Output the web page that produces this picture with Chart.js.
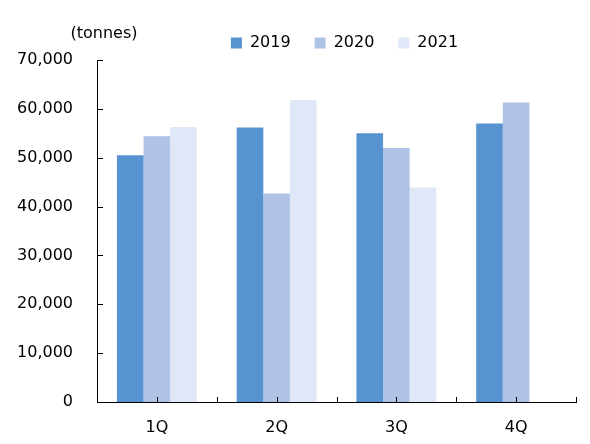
<!DOCTYPE html>
<html>
<head>
<meta charset="utf-8">
<script src="https://cdn.jsdelivr.net/npm/chart.js@4/dist/chart.umd.min.js"></script>
<style>
  html, body { margin: 0; padding: 0; background: #fff; }
  #wrap { width: 590px; height: 444px; position: relative; }
</style>
</head>
<body>
<div id="wrap"><canvas id="c"></canvas></div>
<script>
// quarterly volumes (tonnes)
const quarters = ['1Q', '2Q', '3Q', '4Q'];
const years = ['2019', '2020', '2021'];
const vals2019 = [50500, 56200, 55000, 57000];
const vals2020 = [54400, 42700, 52000, 61300];
const vals2021 = [56300, 61800, 43900, null];
const yTicks = [0, 10000, 20000, 30000, 40000, 50000, 60000, 70000];
const unitLabel = '(tonnes)';

const colors = ['#5793d0', '#aec3e6', '#e0e7f6'];
const FONT = { family: 'DejaVu Sans', size: 16 };

// excel-style tick marks pointing into the plot, plus the unit label
const axisMarks = {
  id: 'axisMarks',
  afterLayout(chart) {
    // shift the legend so it sits over the plot like in the original
    const lg = chart.legend;
    lg.left = 99; lg.right = 590;
    lg.top = 11;
  },
  afterDatasetsDraw(chart) {
    const { ctx, chartArea: a, scales: { x, y } } = chart;
    ctx.save();
    ctx.strokeStyle = '#000';
    ctx.lineWidth = 1;
    ctx.beginPath();
    y.ticks.forEach(t => {
      const py = Math.round(y.getPixelForValue(t.value)) + 0.5;
      ctx.moveTo(a.left, py); ctx.lineTo(a.left + 6, py);
    });
    const half = (x.getPixelForValue(1) - x.getPixelForValue(0)) / 2;
    quarters.forEach((q, i) => {
      const c = Math.round(x.getPixelForValue(i)) + 0.5;
      const b = Math.round(x.getPixelForValue(i) + half) + 0.5;
      ctx.moveTo(c, a.bottom); ctx.lineTo(c, a.bottom - 5);
      ctx.moveTo(b, a.bottom); ctx.lineTo(b, a.bottom - 5);
    });
    ctx.stroke();
    ctx.fillStyle = '#000';
    ctx.font = '16px "DejaVu Sans"';
    ctx.textAlign = 'center';
    ctx.textBaseline = 'middle';
    ctx.fillText(unitLabel, a.left + 7, a.top - 26);
    ctx.restore();
  }
};

new Chart(document.getElementById('c'), {
  type: 'bar',
  data: {
    labels: quarters,
    datasets: [
      { label: years[0], data: vals2019, backgroundColor: colors[0] },
      { label: years[1], data: vals2020, backgroundColor: colors[1] },
      { label: years[2], data: vals2021, backgroundColor: colors[2] }
    ]
  },
  options: {
    responsive: true, maintainAspectRatio: false, animation: false,
    categoryPercentage: 0.667, barPercentage: 1,
    layout: { padding: { left: 17, right: 14, bottom: 7, top: 10 } },
    plugins: {
      tooltip: { enabled: false },
      legend: {
        position: 'top',
        maxHeight: 60,
        labels: { boxWidth: 11, boxHeight: 11, padding: 24, color: '#000', font: FONT }
      }
    },
    scales: {
      x: {
        grid: { display: false, drawTicks: false },
        border: { color: '#000', width: 1 },
        ticks: { color: '#000', font: FONT, padding: 16 },
        afterFit(s) { s.height = 35; }
      },
      y: {
        min: yTicks[0], max: yTicks[yTicks.length - 1],
        grid: { display: false, drawTicks: false },
        border: { color: '#000', width: 1 },
        ticks: { stepSize: yTicks[1] - yTicks[0], color: '#000', font: FONT, padding: 24 },
        afterFit(s) { s.width = 80; }
      }
    }
  },
  plugins: [axisMarks]
});
</script>
</body>
</html>
